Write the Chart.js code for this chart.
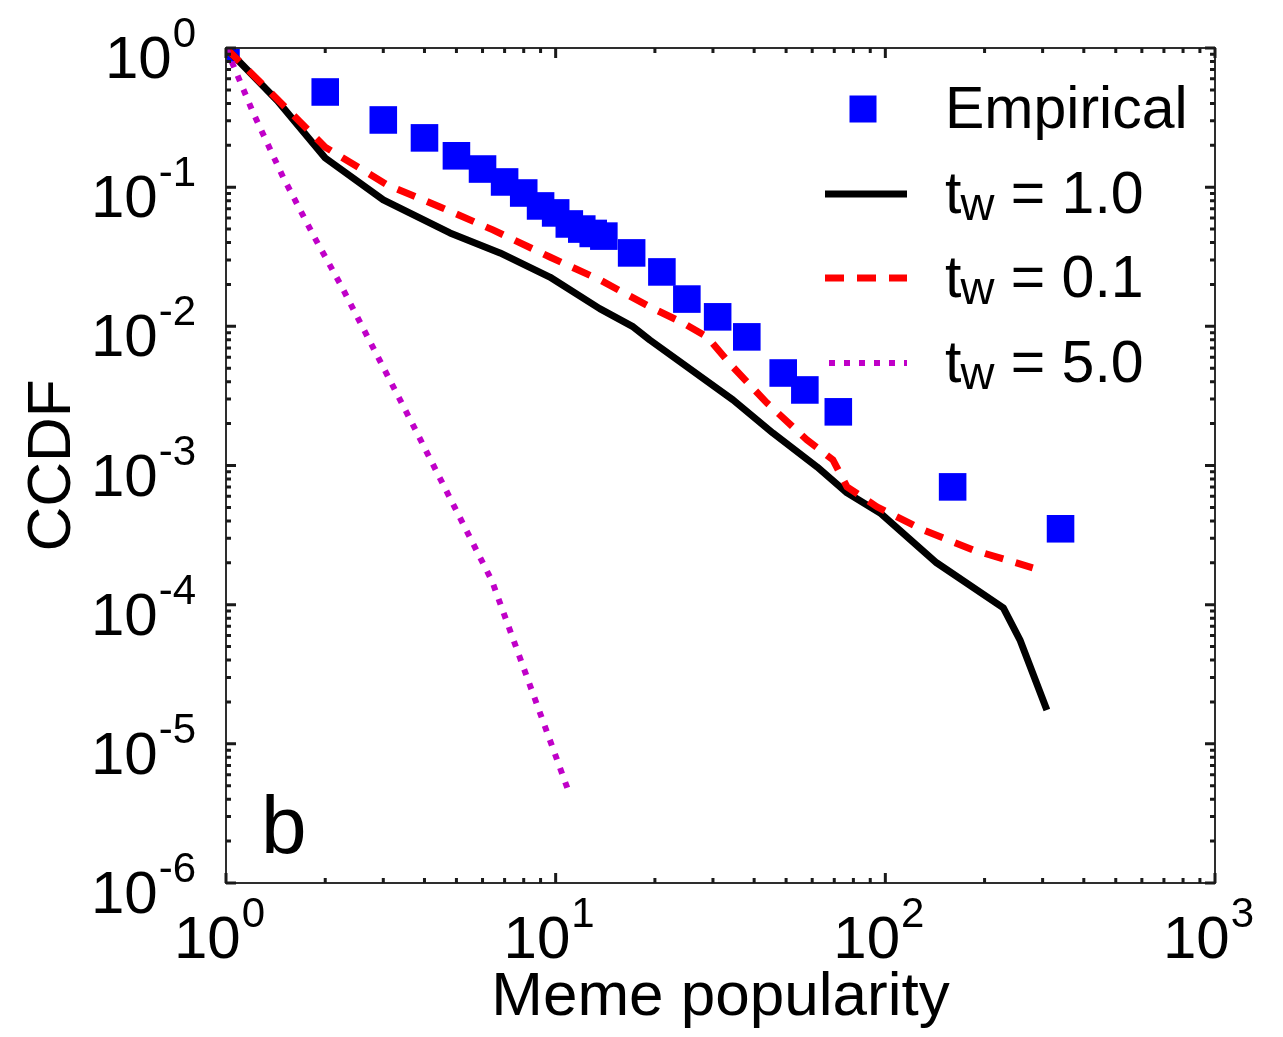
<!DOCTYPE html>
<html><head><meta charset="utf-8">
<script src="https://cdn.jsdelivr.net/npm/chart.js@4.4.1/dist/chart.umd.min.js"></script>
<style>html,body{margin:0;padding:0;background:#fff}#c{display:block}</style>
</head><body>
<canvas id="c" width="1283" height="1037" style="width:1283px;height:1037px"></canvas>
<script>
// ---------- data ----------
const empiricalX = [1, 2, 3, 4, 5, 6, 7, 8, 9, 10, 11, 12, 13, 14, 17, 21, 25, 31, 38, 49, 57, 72, 160, 340];
const empiricalY = [1, 0.483, 0.304, 0.226, 0.168, 0.135, 0.109, 0.0908, 0.0733, 0.0653, 0.0544, 0.050, 0.0465, 0.0445,
                    0.0337, 0.0246, 0.0157, 0.0117, 0.0084, 0.00462, 0.00349, 0.00243, 0.000702, 0.000351];

const tw1X = [1, 1.43, 2, 3, 4.78, 6.78, 9.6, 13.6, 17.2, 19.3, 34.5, 45.6, 62.1, 76.5, 96.4, 143, 228, 256, 309];
const tw1Y = [1, 0.42, 0.162, 0.081, 0.0469, 0.0337, 0.0226, 0.0134, 0.0099, 0.00798, 0.00296, 0.00171, 0.000977,
              0.000636, 0.000456, 0.0002, 0.0000948, 0.0000559, 0.0000175];

const tw01X = [1, 2, 3.08, 4.46, 6.45, 9.6, 13.6, 19.3, 24.3, 28.8, 34.5, 43.7, 57.8, 69.3, 76.5, 94.3, 130, 184, 280];
const tw01Y = [1, 0.194, 0.104, 0.0721, 0.0493, 0.0315, 0.0216, 0.0138, 0.0106, 0.0084, 0.0051, 0.00282, 0.00153,
               0.0011, 0.000702, 0.000505, 0.000345, 0.000248, 0.000184];

const tw5X = [1, 1.21, 1.49, 1.86, 2.23, 3.69, 6.41, 11.0];
const tw5Y = [1, 0.341, 0.118, 0.0431, 0.0198, 0.00196, 0.000148, 0.0000044];

const seriesLabels = ['Empirical', 't_w = 1.0', 't_w = 0.1', 't_w = 5.0'];
const xTickExponents = [0, 1, 2, 3];
const yTickExponents = [0, -1, -2, -3, -4, -5, -6];
const minorMantissas = [2, 3, 4, 5, 6, 7, 8, 9];
const xTitle = 'Meme popularity';
const yTitle = 'CCDF';
const panelLabel = 'b';

// ---------- helpers ----------
const pts = (xs, ys) => xs.map((x, i) => ({x: x, y: ys[i]}));
const FONT = '"Liberation Sans", Arial, Helvetica, sans-serif';

function buildLogTicks(exps) {
  const lo = Math.min(...exps), hi = Math.max(...exps);
  const t = [];
  for (let e = lo; e <= hi; e++) {
    t.push({value: Math.pow(10, e), major: true});
    if (e < hi) minorMantissas.forEach(m => t.push({value: m * Math.pow(10, e), major: false}));
  }
  return t;
}

const framePlugin = {
  id: 'framePlugin',
  afterDatasetsDraw(chart) {
    const {ctx, chartArea: a, scales} = chart;
    ctx.save();
    ctx.strokeStyle = '#2e2e2e';
    ctx.lineWidth = 2;
    ctx.strokeRect(a.left, a.top, a.right - a.left, a.bottom - a.top);
    ctx.lineWidth = 3;
    ctx.strokeStyle = '#1a1a1a';
    scales.x.ticks.forEach(t => {
      const px = scales.x.getPixelForValue(t.value);
      const L = t.major ? 10 : 5;
      ctx.beginPath();
      ctx.moveTo(px, a.bottom); ctx.lineTo(px, a.bottom - L);
      ctx.moveTo(px, a.top); ctx.lineTo(px, a.top + L);
      ctx.stroke();
    });
    scales.y.ticks.forEach(t => {
      const py = scales.y.getPixelForValue(t.value);
      const L = t.major ? 10 : 5;
      ctx.beginPath();
      ctx.moveTo(a.left, py); ctx.lineTo(a.left + L, py);
      ctx.moveTo(a.right, py); ctx.lineTo(a.right - L, py);
      ctx.stroke();
    });
    ctx.restore();
  },
  afterDraw(chart) {
    const {ctx, chartArea: a, scales} = chart;
    ctx.save();
    ctx.fillStyle = '#000';
    ctx.textBaseline = 'alphabetic';
    const mainF = '60px ' + FONT, supF = '42px ' + FONT;
    // x tick labels
    xTickExponents.forEach(e => {
      const px = scales.x.getPixelForValue(Math.pow(10, e));
      ctx.font = mainF; const w1 = ctx.measureText('10').width;
      ctx.font = supF; const s = String(e); const w2 = ctx.measureText(s).width;
      const left = px - 7 - (w1 + w2) / 2;
      const base = a.bottom + 75;
      ctx.font = mainF; ctx.textAlign = 'left'; ctx.fillText('10', left, base);
      ctx.font = supF; ctx.fillText(s, left + w1 + 1, base - 31);
    });
    // y tick labels
    yTickExponents.forEach(e => {
      const py = scales.y.getPixelForValue(Math.pow(10, e));
      ctx.font = supF; const s = String(e); const w2 = ctx.measureText(s).width;
      ctx.font = mainF; const w1 = ctx.measureText('10').width;
      const right = a.left - 30;
      const base = py + 30;
      ctx.textAlign = 'left';
      ctx.font = mainF; ctx.fillText('10', right - w2 - 1 - w1, base);
      ctx.font = supF; ctx.fillText(s, right - w2, base - 31);
    });
    // panel label
    ctx.font = '82px ' + FONT;
    ctx.textAlign = 'left';
    ctx.fillText(panelLabel, 261, 853);
    // legend
    const rows = [109, 194, 278, 363];
    const textX = 945;
    chart.data.datasets.forEach((ds, i) => {
      const cy = rows[i];
      ctx.save();
      if (i === 0) {
        ctx.fillStyle = ds.backgroundColor;
        ctx.fillRect(863 - 13.5, cy - 13.5, 27, 27);
      } else {
        ctx.strokeStyle = ds.borderColor;
        ctx.lineWidth = ds.borderWidth;
        ctx.setLineDash(ds.borderDash || []);
        ctx.lineCap = 'butt';
        ctx.beginPath(); ctx.moveTo(i === 3 ? 829 : 825, cy); ctx.lineTo(907, cy); ctx.stroke();
      }
      ctx.restore();
      const label = ds.label;
      const base = cy + 19;
      ctx.fillStyle = '#000';
      ctx.textAlign = 'left';
      if (label.indexOf('_') >= 0) {
        const main = label.split('_')[0];
        const rest = label.split('_')[1];
        const sub = rest.charAt(0);
        const tail = rest.slice(1);
        ctx.font = '59px ' + FONT;
        ctx.fillText(main, textX, base);
        let x = textX + ctx.measureText(main).width - 1;
        ctx.font = '47px ' + FONT;
        ctx.fillText(sub, x, base + 7);
        x += ctx.measureText(sub).width;
        ctx.font = '59px ' + FONT;
        ctx.fillText(tail, x, base);
      } else {
        ctx.font = '59px ' + FONT;
        ctx.fillText(label, textX, base);
      }
    });
    ctx.restore();
  }
};

const titleFont = {family: FONT, size: 62};

new Chart(document.getElementById('c'), {
  type: 'scatter',
  data: {
    datasets: [
      {label: seriesLabels[0], data: pts(empiricalX, empiricalY), order: 4, showLine: false,
       pointStyle: 'rect', pointRadius: 19.5, pointBorderWidth: 0, backgroundColor: '#0000ff', borderColor: '#0000ff'},
      {label: seriesLabels[1], data: pts(tw1X, tw1Y), order: 3, showLine: true, pointRadius: 0,
       borderColor: '#000000', borderWidth: 7, borderJoinStyle: 'round', tension: 0},
      {label: seriesLabels[2], data: pts(tw01X, tw01Y), order: 2, showLine: true, pointRadius: 0,
       borderColor: '#ff0000', borderWidth: 7, borderDash: [19, 13], tension: 0},
      {label: seriesLabels[3], data: pts(tw5X, tw5Y), order: 1, showLine: true, pointRadius: 0,
       borderColor: '#c000c8', borderWidth: 6, borderDash: [6, 9], tension: 0}
    ]
  },
  options: {
    responsive: false,
    animation: false,
    events: [],
    layout: {padding: {top: 48, right: 68, left: 0, bottom: 0}},
    plugins: {legend: {display: false}, tooltip: {enabled: false}},
    scales: {
      x: {
        type: 'logarithmic', min: 1, max: 1000, position: 'bottom',
        grid: {display: false}, border: {display: false},
        ticks: {display: false},
        afterBuildTicks(s) { s.ticks = buildLogTicks(xTickExponents); },
        afterFit(s) { s.height = 154; },
        title: {display: true, text: xTitle, color: '#000', font: titleFont, padding: {top: 0, bottom: 2}}
      },
      y: {
        type: 'logarithmic', min: 1e-6, max: 1, position: 'left',
        grid: {display: false}, border: {display: false},
        ticks: {display: false},
        afterBuildTicks(s) { s.ticks = buildLogTicks(yTickExponents); },
        afterFit(s) { s.width = 226; },
        title: {display: true, text: yTitle, color: '#000', font: titleFont, padding: {top: 16, bottom: 0}}
      }
    }
  },
  plugins: [framePlugin]
});
</script>
</body></html>
